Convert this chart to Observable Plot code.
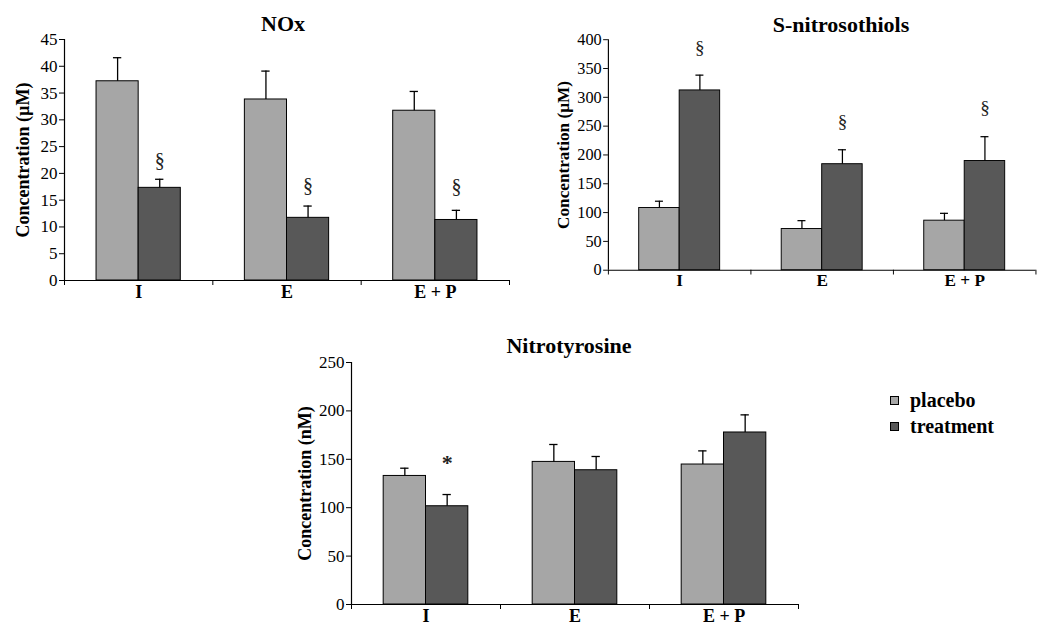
<!DOCTYPE html>
<html>
<head>
<meta charset="utf-8">
<script src="https://cdn.jsdelivr.net/npm/d3@7"></script>
<script src="https://cdn.jsdelivr.net/npm/@observablehq/plot@0.6"></script>
<style>
  html, body { margin: 0; padding: 0; background: #fff; overflow: hidden; }
  #wrap { position: relative; width: 1046px; height: 627px; overflow: hidden; font-family: "Liberation Serif", "Times New Roman", serif; }
  #wrap svg, #wrap svg text { font-family: "Liberation Serif", "Times New Roman", serif !important; }
  .panel { position: absolute; }
  .title { position: absolute; font-size: 22px; line-height: 22px; font-weight: bold; transform: translateX(-50%); white-space: nowrap; }
  .legend { position: absolute; font-size: 20px; font-weight: bold; line-height: 20px; }
  .legend .row { display: flex; align-items: center; height: 26px; }
  .legend .sw { width: 7px; height: 7px; border: 1px solid #000; margin-right: 11px; }
</style>
</head>
<body>
<div id="wrap"></div>
<script>
// ---- data ----
const categories = ["I", "E", "E + P"];
const groups = ["placebo", "treatment"];
const groupColors = ["#a6a6a6", "#585858"];

const noxTitle = "NOx";
const noxYLabel = "Concentration (µM)";
const noxTicks = [0, 5, 10, 15, 20, 25, 30, 35, 40, 45];
const noxPlacebo = [37.2, 33.8, 31.7];
const noxPlaceboErr = [41.6, 39.1, 35.3];
const noxTreatment = [17.3, 11.7, 11.3];
const noxTreatmentErr = [18.9, 13.9, 13.1];
const noxMarks = ["§", "§", "§"];
const noxMarkY = [22.4, 17.7, 17.5];

const snoTitle = "S-nitrosothiols";
const snoYLabel = "Concentration (µM)";
const snoTicks = [0, 50, 100, 150, 200, 250, 300, 350, 400];
const snoPlacebo = [108, 71.5, 86];
const snoPlaceboErr = [119.7, 86, 98.7];
const snoTreatment = [312, 184, 189.5];
const snoTreatmentErr = [338.5, 209, 231.7];
const snoMarks = ["§", "§", "§"];
const snoMarkY = [385, 257, 282.5];

const ntTitle = "Nitrotyrosine";
const ntYLabel = "Concentration (nM)";
const ntTicks = [0, 50, 100, 150, 200, 250];
const ntPlacebo = [132.8, 147.3, 144.6];
const ntPlaceboErr = [140.8, 165.3, 158.7];
const ntTreatment = [101.5, 138.7, 177.7];
const ntTreatmentErr = [113.6, 152.9, 195.9];
const ntMarks = ["*", "", ""];
const ntMarkY = [146, null, null];

// ---- layout ----
const FONT = "Liberation Serif, Times New Roman, serif";
const BAR = 0.284;   // bar width as fraction of category
const CAP = 0.028;   // half error-cap width as fraction of category

function panel(cfg) {
  const rows = [];
  categories.forEach((c, i) => {
    const mid = i + 0.5;
    rows.push({cat: c, group: groups[0], value: cfg.placebo[i], err: cfg.placeboErr[i], x1: mid - BAR, x2: mid, xc: mid - BAR / 2});
    rows.push({cat: c, group: groups[1], value: cfg.treatment[i], err: cfg.treatmentErr[i], x1: mid, x2: mid + BAR, xc: mid + BAR / 2});
  });
  const marks = [];
  categories.forEach((c, i) => {
    if (cfg.marks[i]) marks.push({x: i + 0.5 + BAR / 2, y: cfg.markY[i], t: cfg.marks[i]});
  });
  const ymax = cfg.ticks[cfg.ticks.length - 1];
  return Plot.plot({
    width: cfg.width, height: cfg.height,
    marginLeft: cfg.ml, marginRight: cfg.mr, marginTop: cfg.mt, marginBottom: cfg.mb,
    style: {fontFamily: FONT, fontSize: "17px", color: "#000", background: "transparent", overflow: "visible"},
    x: {domain: [0, categories.length]},
    y: {domain: [0, ymax]},
    color: {domain: groups, range: groupColors},
    marks: [
      Plot.rectY(rows, {x1: "x1", x2: "x2", y1: 0, y2: "value", fill: "group", stroke: "#000", strokeWidth: 1}),
      Plot.ruleX(rows, {x: "xc", y1: "value", y2: "err", stroke: "#000", strokeWidth: 1.3}),
      Plot.ruleY(rows, {y: "err", x1: d => d.xc - CAP, x2: d => d.xc + CAP, stroke: "#000", strokeWidth: 1.3}),
      Plot.ruleX([0], {stroke: "#000", strokeWidth: 1.2}),
      Plot.ruleY([0], {stroke: "#000", strokeWidth: 1.2}),
      Plot.axisY({ticks: cfg.ticks, tickSize: 5, tickPadding: 2, label: null, fontSize: 17, fontFamily: FONT}),
      Plot.axisX({ticks: d3.range(categories.length + 1), tickSize: 5, tickFormat: () => "", label: null}),
      Plot.text(categories, {x: (d, i) => i + 0.5, frameAnchor: "bottom", dy: 17, text: d => d, fontWeight: "bold", fontSize: 18, fontFamily: FONT}),
      Plot.text(marks, {x: "x", y: "y", text: "t", fontSize: cfg.markSize, fontWeight: cfg.markWeight, fill: "#222", fontFamily: FONT}),
      Plot.text([cfg.ylabel], {frameAnchor: "left", textAnchor: "middle", rotate: -90, dx: cfg.ldx, text: d => d, fontWeight: "bold", fontSize: 18, fontFamily: FONT})
    ]
  });
}

const wrap = document.getElementById("wrap");
function place(node, left, top) {
  const d = document.createElement("div");
  d.className = "panel";
  d.style.left = left + "px";
  d.style.top = top + "px";
  d.appendChild(node);
  wrap.appendChild(d);
}
function title(text, cx, top) {
  const d = document.createElement("div");
  d.className = "title";
  d.textContent = text;
  d.style.left = cx + "px";
  d.style.top = top + "px";
  wrap.appendChild(d);
}

place(panel({placebo: noxPlacebo, placeboErr: noxPlaceboErr, treatment: noxTreatment, treatmentErr: noxTreatmentErr,
  marks: noxMarks, markY: noxMarkY, ticks: noxTicks, ylabel: noxYLabel, markSize: 20, markWeight: "normal",
  width: 520, height: 315, ml: 64, mr: 11, mt: 39, mb: 35, ldx: -41}), 0, 0);
place(panel({placebo: snoPlacebo, placeboErr: snoPlaceboErr, treatment: snoTreatment, treatmentErr: snoTreatmentErr,
  marks: snoMarks, markY: snoMarkY, ticks: snoTicks, ylabel: snoYLabel, markSize: 20, markWeight: "normal",
  width: 529, height: 315, ml: 71, mr: 11, mt: 41, mb: 33, ldx: -47}), 540, 0);
place(panel({placebo: ntPlacebo, placeboErr: ntPlaceboErr, treatment: ntTreatment, treatmentErr: ntTreatmentErr,
  marks: ntMarks, markY: ntMarkY, ticks: ntTicks, ylabel: ntYLabel, markSize: 22, markWeight: "bold",
  width: 529, height: 309, ml: 71, mr: 11, mt: 32, mb: 35, ldx: -46}), 280, 330);

title(noxTitle, 283, 13);
title(snoTitle, 841, 14);
title(ntTitle, 569, 335);

// legend
const lg = document.createElement("div");
lg.className = "legend";
lg.style.left = "890px";
lg.style.top = "387px";
groups.forEach((g, i) => {
  const r = document.createElement("div");
  r.className = "row";
  const sw = document.createElement("div");
  sw.className = "sw";
  sw.style.background = groupColors[i];
  const t = document.createElement("span");
  t.textContent = g;
  r.appendChild(sw); r.appendChild(t);
  lg.appendChild(r);
});
wrap.appendChild(lg);
</script>
</body>
</html>
